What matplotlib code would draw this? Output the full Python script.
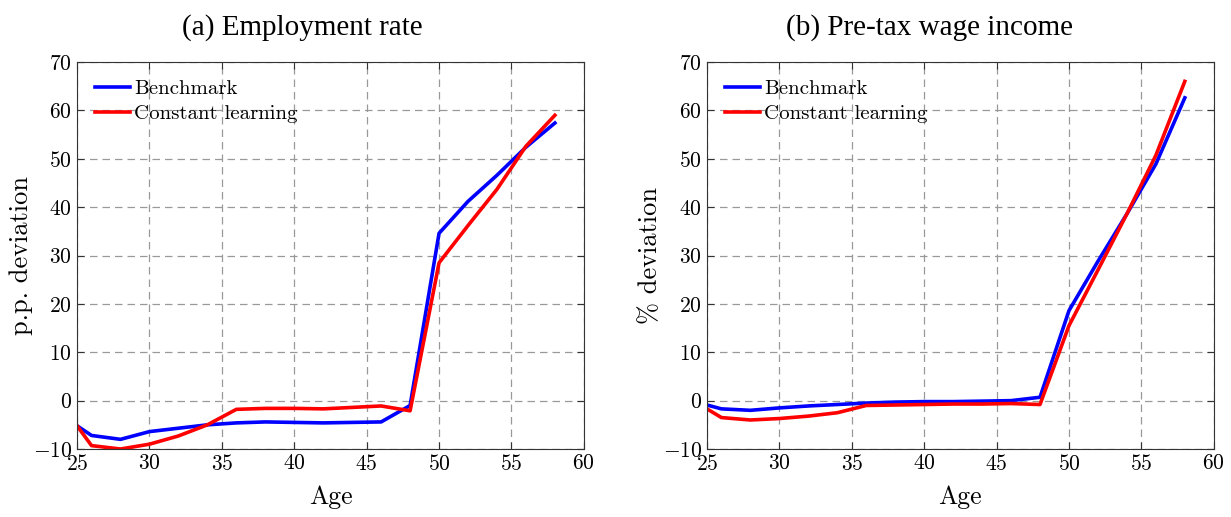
import numpy as np
import matplotlib
matplotlib.use("Agg")
import matplotlib.pyplot as plt

plt.rcParams['font.family'] = ['cmr10', 'DejaVu Serif']
plt.rcParams['mathtext.fontset'] = 'cm'
plt.rcParams['axes.formatter.use_mathtext'] = True
plt.rcParams['axes.unicode_minus'] = True

ages = [25, 26, 28, 30, 32, 34, 36, 38, 40, 42, 44, 46, 48, 50, 52, 54, 56, 58]

# (a) employment rate, p.p. deviation
emp_bench = [-5.2, -7.2, -8.0, -6.4, -5.7, -5.0, -4.6, -4.4, -4.5, -4.6, -4.5, -4.4, -1.0,
             34.6, 41.2, 46.6, 52.4, 57.4]
emp_const = [-5.2, -9.3, -10.0, -9.0, -7.3, -5.0, -1.8, -1.6, -1.6, -1.7, -1.4, -1.1, -2.1,
             28.5, 36.2, 43.7, 52.6, 59.0]

# (b) pre-tax wage income, % deviation
wage_bench = [-0.9, -1.7, -2.0, -1.5, -1.1, -0.8, -0.5, -0.3, -0.2, -0.2, -0.1, 0.0, 0.7,
              18.6, 28.8, 38.6, 48.9, 62.6]
wage_const = [-1.7, -3.5, -4.0, -3.7, -3.2, -2.5, -1.0, -0.9, -0.8, -0.7, -0.7, -0.6, -0.8,
              15.5, 27.0, 38.6, 50.7, 66.0]

titles = ['(a) Employment rate', '(b) Pre-tax wage income']
ylabels = ['p.p. deviation', '% deviation']
series = [(emp_bench, emp_const), (wage_bench, wage_const)]
labels = ['Benchmark', 'Constant learning']

fig = plt.figure(figsize=(12.31, 5.17), dpi=100)
lefts = [0.0626, 0.5743]
title_x = [0.445, 0.439]

for i in range(2):
    ax = fig.add_axes([lefts[i], 0.1315, 0.4117, 0.7485])
    b, c = series[i]
    ax.plot(ages, b, color='#0000ff', lw=2.6, label=labels[0])
    ax.plot(ages, c, color='#ff0000', lw=2.6, label=labels[1])
    ax.set_xlim(25, 60)
    ax.set_ylim(-10, 70)
    ax.set_xticks(np.arange(25, 61, 5))
    ax.set_yticks(np.arange(-10, 71, 10))
    ax.grid(True, linestyle=(0, (6, 4)), color='#999999', lw=0.9)
    ax.tick_params(direction='in', top=True, right=True, labelsize=15.5, length=5, color='#333333')
    for s in ax.spines.values():
        s.set_color('#333333')
        s.set_linewidth(0.8)
    ax.set_xlabel('Age', fontsize=18.5, labelpad=8)
    ax.set_ylabel(ylabels[i], fontsize=19, labelpad=0)
    ax.set_title(titles[i], fontsize=21, family='Liberation Serif', pad=20, x=title_x[i])
    ax.legend(loc='upper left', frameon=False, fontsize=15, handlelength=1.7,
              handletextpad=0.2, borderaxespad=0.45, labelspacing=0.3)

fig.savefig('out.png', dpi=100)
